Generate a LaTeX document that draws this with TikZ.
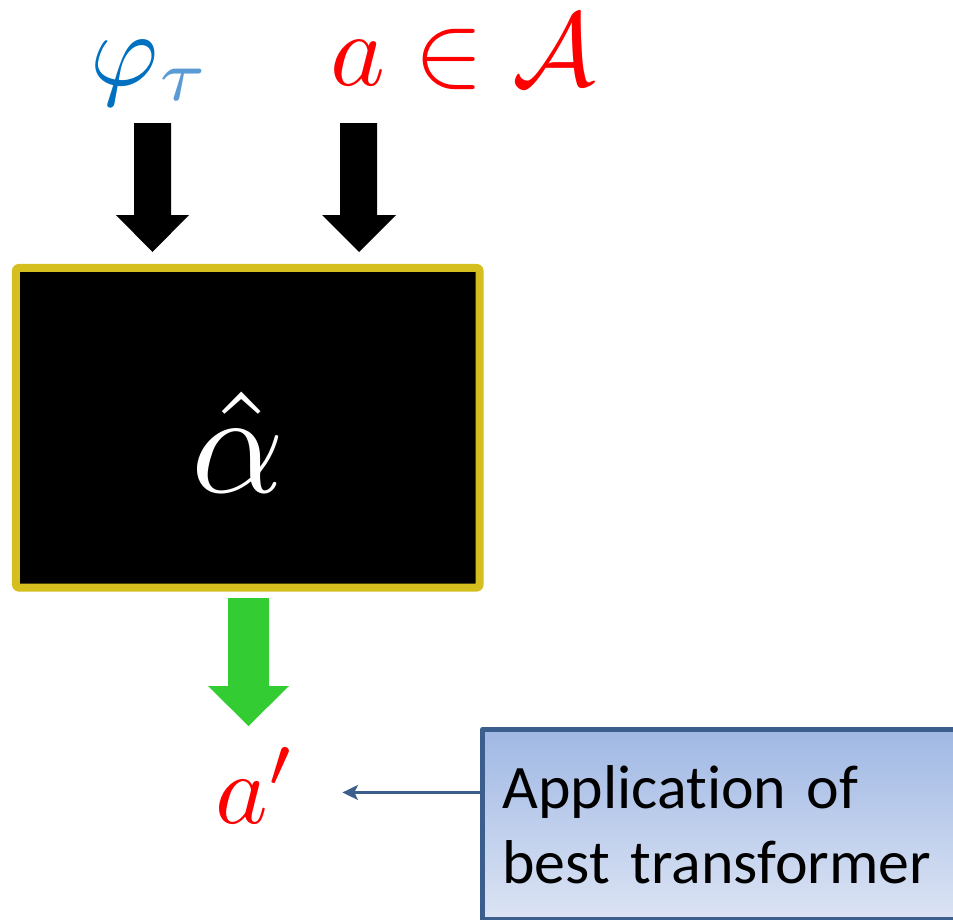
\documentclass[tikz,border=0pt]{standalone}
\usepackage{fontspec}
\newfontfamily\calloutfont[RawFeature={-liga;-clig;-dlig;-calt}]{Carlito}
\definecolor{phiblue}{HTML}{0070C0}
\definecolor{taublue}{HTML}{5B9BD5}
\definecolor{mathred}{HTML}{FF0000}
\definecolor{frame}{HTML}{D4BF1E}
\definecolor{outgreen}{HTML}{33CC33}
\definecolor{pointer}{HTML}{3B5E8C}
\definecolor{calltop}{HTML}{A0B8E4}
\definecolor{callbottom}{HTML}{DCE4F4}
\usetikzlibrary{arrows.meta, calc}

\begin{document}
\begin{tikzpicture}[x=0.025cm, y=-0.025cm, line join=round,
    mathlabel/.style={anchor=base, inner sep=0pt},
    estimator/.style={draw=frame, fill=black, line width=5.7pt, rounded corners=2pt,
        minimum width=11.59cm, minimum height=7.99cm, inner sep=0pt},
    callout/.style={draw=pointer, line width=3.5pt, top color=calltop, bottom color=callbottom,
        anchor=north west, minimum width=12.4cm, minimum height=4.75cm,
        text width=11.4cm, align=left, inner xsep=0.5cm, inner ysep=0pt,
        font=\calloutfont\fontsize{44}{53.3}\selectfont},
    pointer/.style={draw=pointer, line width=2.2pt, shorten >=1.1cm,
        -{Stealth[length=11pt, width=10.5pt, inset=2.5pt]}}]
    \useasboundingbox (0,0) rectangle (953,920);
    \clip (0,0) rectangle (953,920);

    % Inputs
    \node[mathlabel, scale=7.4] (phi) at (151,85)
        {$\color{phiblue}\varphi_{\color{taublue}\tau}$};
    \node[mathlabel, scale=7.4, text=mathred] (act) at (463,85)
        {$a\in\mathcal{A}$};

    % Input arrows (block shapes)
    \fill[black] (134,123) -- (171,123) -- (171,215) -- (189,215) -- (152.5,252)
        -- (116,215) -- (134,215) -- cycle;
    \fill[black] (340,123) -- (377,123) -- (377,215) -- (396,215) -- (359,252)
        -- (322,215) -- (340,215) -- cycle;

    % Black box with estimator
    \node[estimator] (est) at (247.75,427.75) {};
    \node[mathlabel, scale=10.3, text=white] (alphahat) at (238,492)
        {$\hat{\alpha}$};

    % Output arrow
    \fill[outgreen] (228,598) -- (269,598) -- (269,686) -- (289,686) -- (248.5,726)
        -- (208,686) -- (228,686) -- cycle;

    % Output
    \node[mathlabel, scale=7.1, text=mathred] (aprime) at (256,823)
        {$a'$};

    % Callout
    \node[callout] (info) at (480,727) {Application of\\best transformer};
    \coordinate (aim) at ($(aprime.east)+(0,7)$);
    \draw[pointer] (info.west |- aim) -- (aim);
\end{tikzpicture}
\end{document}
